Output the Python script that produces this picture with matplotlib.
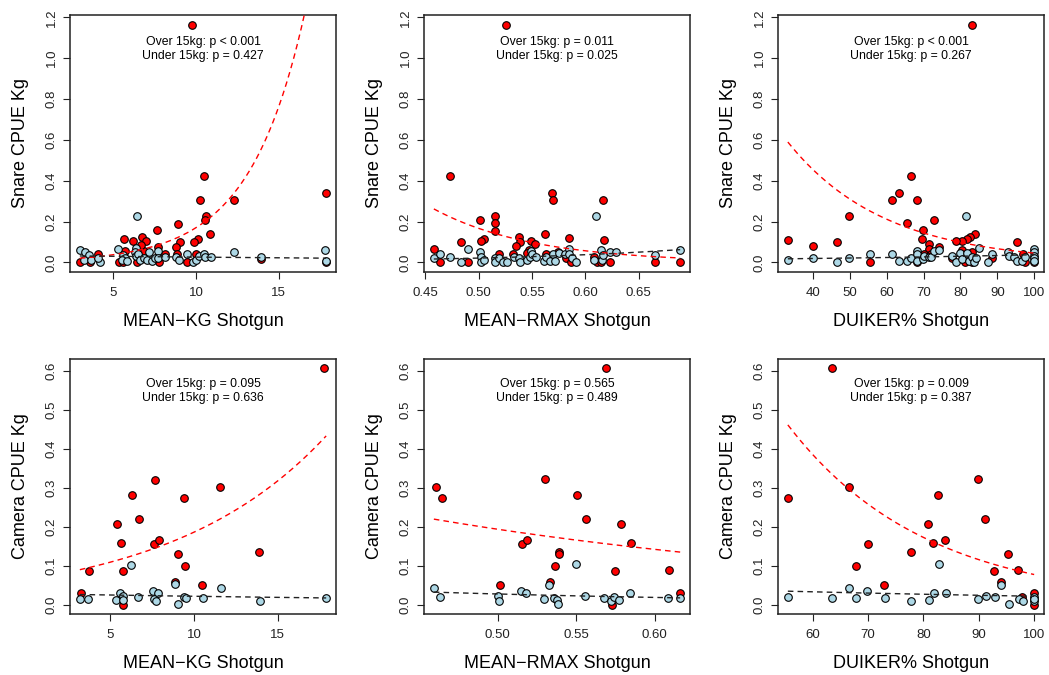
import numpy as np
import matplotlib
matplotlib.use("Agg")
import matplotlib.pyplot as plt

plt.rcParams['font.family'] = ['Liberation Sans', 'DejaVu Sans']

# ---- Snare CPUE vs MEAN-KG ----
snare_kg_over_x = [9.79, 10.51, 10.27, 12.32, 17.86, 10.59, 10.53, 8.90, 7.62, 10.86,
                   5.66, 6.73, 6.21, 7.01, 10.13, 9.89, 9.02, 8.82, 4.07, 6.87,
                   6.71, 7.70, 8.12, 5.74, 8.86, 10.03, 2.99, 3.59, 5.38, 5.58,
                   6.45, 7.76, 9.47, 13.93, 17.86]
snare_kg_over_y = [1.165, 0.425, 0.307, 0.308, 0.338, 0.230, 0.207, 0.190, 0.158, 0.138,
                   0.116, 0.124, 0.104, 0.106, 0.113, 0.098, 0.100, 0.078, 0.041, 0.055,
                   0.086, 0.075, 0.041, 0.055, 0.041, 0.041, 0.0, 0.0, 0.0, 0.0,
                   0.0, 0.0, 0.0, 0.017, 0.0]
snare_kg_under_x = [6.47, 2.99, 3.33, 3.53, 3.23, 3.69, 4.20, 4.09, 5.30, 5.60,
                    5.74, 5.54, 5.85, 6.35, 6.31, 6.35, 6.49, 6.65, 6.87, 7.05,
                    7.15, 7.35, 7.52, 7.72, 7.72, 8.14, 8.80, 8.96, 9.47, 9.81,
                    10.03, 10.21, 10.47, 10.57, 10.88, 12.32, 13.93, 17.82, 17.86]
snare_kg_under_y = [0.230, 0.061, 0.053, 0.036, 0.010, 0.012, 0.003, 0.020, 0.066, 0.036,
                    0.023, 0.013, 0.008, 0.070, 0.050, 0.030, 0.041, 0.012, 0.020, 0.013,
                    0.050, 0.008, 0.020, 0.058, 0.020, 0.025, 0.025, 0.013, 0.040, 0.003,
                    0.013, 0.033, 0.043, 0.025, 0.025, 0.050, 0.028, 0.060, 0.005]

# ---- Snare CPUE vs MEAN-RMAX ----
snare_rmax_over_x = [0.526, 0.473, 0.569, 0.570, 0.617, 0.515, 0.501, 0.515, 0.515, 0.562,
                     0.585, 0.618, 0.483, 0.505, 0.502, 0.538, 0.539, 0.549, 0.553, 0.535,
                     0.547, 0.458, 0.464, 0.490, 0.519, 0.532, 0.545, 0.563, 0.574, 0.582,
                     0.587, 0.608, 0.611, 0.615, 0.623, 0.665, 0.689]
snare_rmax_over_y = [1.165, 0.425, 0.338, 0.308, 0.308, 0.230, 0.207, 0.191, 0.156, 0.139,
                     0.118, 0.108, 0.100, 0.114, 0.106, 0.124, 0.100, 0.104, 0.090, 0.080,
                     0.063, 0.066, 0.0, 0.0, 0.041, 0.041, 0.046, 0.041, 0.053, 0.020,
                     0.0, 0.028, 0.0, 0.0, 0.0, 0.0, 0.0]
snare_rmax_under_x = [0.458, 0.464, 0.473, 0.483, 0.490, 0.501, 0.502, 0.502, 0.505, 0.515,
                      0.515, 0.519, 0.523, 0.527, 0.533, 0.538, 0.539, 0.545, 0.548, 0.549,
                      0.550, 0.554, 0.561, 0.563, 0.567, 0.570, 0.572, 0.575, 0.581, 0.585,
                      0.585, 0.588, 0.591, 0.608, 0.610, 0.615, 0.616, 0.617, 0.623, 0.629,
                      0.665, 0.689]
snare_rmax_under_y = [0.020, 0.041, 0.025, 0.0, 0.065, 0.053, 0.025, 0.003, 0.012, 0.020,
                      0.003, 0.020, 0.003, 0.0, 0.025, 0.020, 0.003, 0.013, 0.025, 0.058,
                      0.041, 0.028, 0.008, 0.025, 0.008, 0.041, 0.008, 0.045, 0.041, 0.066,
                      0.041, 0.020, 0.003, 0.012, 0.230, 0.060, 0.012, 0.036, 0.053, 0.053,
                      0.036, 0.060]

# ---- Snare CPUE vs DUIKER% ----
snare_duik_over_x = [83.1, 66.6, 63.4, 61.4, 68.2, 49.9, 72.9, 65.5, 69.9, 84.0,
                     82.7, 81.8, 80.4, 78.9, 69.7, 33.2, 40.0, 46.6, 95.3, 71.4,
                     71.4, 74.1, 70.1, 72.1, 80.3, 83.1, 55.6, 68.2, 81.3, 83.1,
                     88.7, 96.9, 97.6, 100.0, 77.7]
snare_duik_over_y = [1.165, 0.425, 0.338, 0.308, 0.308, 0.230, 0.207, 0.191, 0.158, 0.138,
                     0.124, 0.116, 0.104, 0.104, 0.114, 0.108, 0.080, 0.100, 0.100, 0.090,
                     0.065, 0.075, 0.041, 0.041, 0.063, 0.053, 0.0, 0.0, 0.0, 0.0,
                     0.020, 0.041, 0.0, 0.0, 0.020]
snare_duik_under_x = [33.2, 40.0, 46.6, 49.9, 55.6, 61.4, 63.4, 65.5, 66.6, 68.2,
                      68.2, 68.2, 69.9, 70.1, 71.4, 72.1, 72.9, 74.1, 77.7, 78.9,
                      80.0, 80.4, 81.5, 81.8, 82.2, 83.1, 83.6, 84.3, 85.0, 87.5,
                      88.7, 92.8, 93.1, 94.4, 95.3, 96.7, 97.6, 100.0, 100.0, 100.0,
                      100.0, 100.0]
snare_duik_under_y = [0.012, 0.023, 0.0, 0.020, 0.040, 0.040, 0.008, 0.008, 0.023, 0.058,
                      0.041, 0.008, 0.017, 0.033, 0.025, 0.025, 0.058, 0.061, 0.030, 0.003,
                      0.045, 0.017, 0.230, 0.045, 0.008, 0.025, 0.0, 0.020, 0.070, 0.003,
                      0.041, 0.053, 0.033, 0.025, 0.007, 0.008, 0.025, 0.066, 0.050, 0.033,
                      0.020, 0.005]

# ---- Camera CPUE vs MEAN-KG ----
camera_kg_over_x = [17.76, 7.67, 11.55, 6.29, 9.43, 6.71, 5.39, 5.65, 7.59, 7.92,
                    9.02, 13.88, 9.49, 3.73, 5.78, 8.88, 10.49, 3.24, 5.78]
camera_kg_over_y = [0.606, 0.320, 0.302, 0.280, 0.274, 0.220, 0.206, 0.158, 0.156, 0.165,
                    0.130, 0.136, 0.099, 0.087, 0.087, 0.058, 0.051, 0.030, 0.0]
camera_kg_under_x = [3.19, 3.67, 6.25, 5.36, 5.60, 5.74, 5.74, 6.65, 7.58, 7.88,
                     7.64, 7.72, 8.88, 9.02, 9.43, 9.51, 10.53, 11.58, 13.93, 17.88]
camera_kg_under_y = [0.015, 0.015, 0.102, 0.011, 0.030, 0.021, 0.011, 0.020, 0.036, 0.029,
                     0.015, 0.010, 0.053, 0.001, 0.019, 0.017, 0.017, 0.043, 0.010, 0.017]

# ---- Camera CPUE vs MEAN-RMAX ----
camera_rmax_over_x = [0.5687, 0.4607, 0.4645, 0.5303, 0.5506, 0.5565, 0.5782, 0.5158, 0.5189, 0.5393,
                      0.5393, 0.5851, 0.5366, 0.5746, 0.6088, 0.5015, 0.5332, 0.6160, 0.5729]
camera_rmax_over_y = [0.606, 0.302, 0.274, 0.321, 0.280, 0.220, 0.206, 0.156, 0.165, 0.135,
                      0.129, 0.158, 0.100, 0.087, 0.088, 0.051, 0.058, 0.030, 0.0]
camera_rmax_under_x = [0.4595, 0.4636, 0.5004, 0.5011, 0.5146, 0.5182, 0.5297, 0.5324, 0.5360, 0.5381,
                       0.5386, 0.5498, 0.5557, 0.5678, 0.5720, 0.5742, 0.5775, 0.5845, 0.6085, 0.6161]
camera_rmax_under_y = [0.043, 0.020, 0.021, 0.010, 0.036, 0.029, 0.015, 0.051, 0.017, 0.012,
                       0.001, 0.103, 0.021, 0.017, 0.010, 0.019, 0.012, 0.030, 0.016, 0.016]

# ---- Camera CPUE vs DUIKER% ----
camera_duik_over_x = [63.4, 55.5, 66.6, 89.8, 82.7, 91.1, 80.9, 69.9, 81.8, 83.9,
                      77.7, 95.2, 67.9, 92.7, 97.1, 94.0, 72.9, 97.8, 100.0, 100.0]
camera_duik_over_y = [0.606, 0.274, 0.302, 0.321, 0.280, 0.220, 0.206, 0.156, 0.158, 0.165,
                      0.136, 0.129, 0.099, 0.087, 0.088, 0.058, 0.051, 0.019, 0.030, 0.0]
camera_duik_under_x = [55.5, 63.4, 66.6, 67.9, 69.8, 73.0, 77.7, 81.0, 81.9, 82.8,
                       84.0, 89.9, 91.3, 92.9, 94.0, 95.4, 97.2, 97.9, 100.0, 100.0,
                       100.0]
camera_duik_under_y = [0.020, 0.017, 0.043, 0.017, 0.036, 0.017, 0.010, 0.012, 0.030, 0.103,
                       0.030, 0.015, 0.021, 0.020, 0.051, 0.001, 0.015, 0.010, 0.019, 0.010,
                       0.015]

# log-link model coefficients (intercept, slope) for the fitted curves
fit_over = [(-4.77, 0.30), (3.571, -10.72), (0.740, -0.0382),
            (-2.756, 0.1073), (-0.087, -3.113), (1.457, -0.0402)]
fit_under = [(-3.358, -0.028), (-6.672, 5.67), (-4.385, 0.01115),
             (-3.569, -0.0283), (-1.627, -3.96), (-2.785, -0.0106)]

p_over = ["p < 0.001", "p = 0.011", "p < 0.001", "p = 0.095", "p = 0.565", "p = 0.009"]
p_under = ["p = 0.427", "p = 0.025", "p = 0.267", "p = 0.636", "p = 0.489", "p = 0.387"]

xlabels = ["MEAN\u2212KG Shotgun", "MEAN\u2212RMAX Shotgun", "DUIKER% Shotgun"] * 2
ylabels = ["Snare CPUE Kg"] * 3 + ["Camera CPUE Kg"] * 3

xticks = [[5, 10, 15], [0.45, 0.50, 0.55, 0.60, 0.65], [40, 50, 60, 70, 80, 90, 100],
          [5, 10, 15], [0.50, 0.55, 0.60], [60, 70, 80, 90, 100]]
xfmt = ["%d", "%.2f", "%d", "%d", "%.2f", "%d"]
yticks_snare = [0.0, 0.2, 0.4, 0.6, 0.8, 1.0, 1.2]
yticks_camera = [0.0, 0.1, 0.2, 0.3, 0.4, 0.5, 0.6]

over = [(snare_kg_over_x, snare_kg_over_y), (snare_rmax_over_x, snare_rmax_over_y),
        (snare_duik_over_x, snare_duik_over_y), (camera_kg_over_x, camera_kg_over_y),
        (camera_rmax_over_x, camera_rmax_over_y), (camera_duik_over_x, camera_duik_over_y)]
under = [(snare_kg_under_x, snare_kg_under_y), (snare_rmax_under_x, snare_rmax_under_y),
         (snare_duik_under_x, snare_duik_under_y), (camera_kg_under_x, camera_kg_under_y),
         (camera_rmax_under_x, camera_rmax_under_y), (camera_duik_under_x, camera_duik_under_y)]

W, H = 1049, 675
fig = plt.figure(figsize=(W / 100, H / 100), dpi=100)

lefts = [70, 424, 778]
rows = [(15, 272), (359, 614)]

for i in range(6):
    r, c = divmod(i, 3)
    top, bot = rows[r]
    ax = fig.add_axes([lefts[c] / W, 1 - bot / H, 266 / W, (bot - top) / H])

    ox, oy = np.array(over[i][0]), np.array(over[i][1])
    ux, uy = np.array(under[i][0]), np.array(under[i][1])
    allx = np.concatenate([ox, ux])
    ally = np.concatenate([oy, uy])

    ax.scatter(ox, oy, s=30, c='#FF0000', edgecolors='black', linewidths=0.8, zorder=2)
    ax.scatter(ux, uy, s=30, c='#ADD8E6', edgecolors='black', linewidths=0.8, zorder=3)

    xs = np.linspace(allx.min(), allx.max(), 200)
    a, b = fit_over[i]
    ax.plot(xs, np.exp(a + b * xs), color='red', lw=1.0, dashes=(4, 3), zorder=4)
    a, b = fit_under[i]
    ax.plot(xs, np.exp(a + b * xs), color='#222222', lw=1.0, dashes=(4, 3), zorder=4)

    # R-style 4% padding around the data range
    xpad = 0.04 * (allx.max() - allx.min())
    ypad = 0.04 * (ally.max() - ally.min())
    ax.set_xlim(allx.min() - xpad, allx.max() + xpad)
    ax.set_ylim(ally.min() - ypad, ally.max() + ypad)

    ax.set_xticks(xticks[i])
    ax.set_xticklabels([xfmt[i] % t for t in xticks[i]])
    yt = yticks_snare if r == 0 else yticks_camera
    ax.set_yticks(yt)
    ax.set_yticklabels(["%.1f" % t for t in yt], rotation=90, va='center')
    ax.tick_params(direction='out', length=4.7, width=0.8, labelsize=9.5, pad=6,
                   colors='#222222')
    ax.tick_params(axis='y', pad=4)

    for sp in ax.spines.values():
        sp.set_linewidth(1.1)
        sp.set_color('#222222')

    ax.set_xlabel(xlabels[i], fontsize=13, labelpad=10)
    ax.set_ylabel(ylabels[i], fontsize=13, labelpad=12)

    ty = 0.867 if r == 0 else 0.873
    ax.text(0.5, ty, "Over 15kg: %s\nUnder 15kg: %s" % (p_over[i], p_under[i]),
            transform=ax.transAxes, ha='center', va='center', fontsize=8.8,
            linespacing=1.2)

fig.savefig("out.png", dpi=100)
